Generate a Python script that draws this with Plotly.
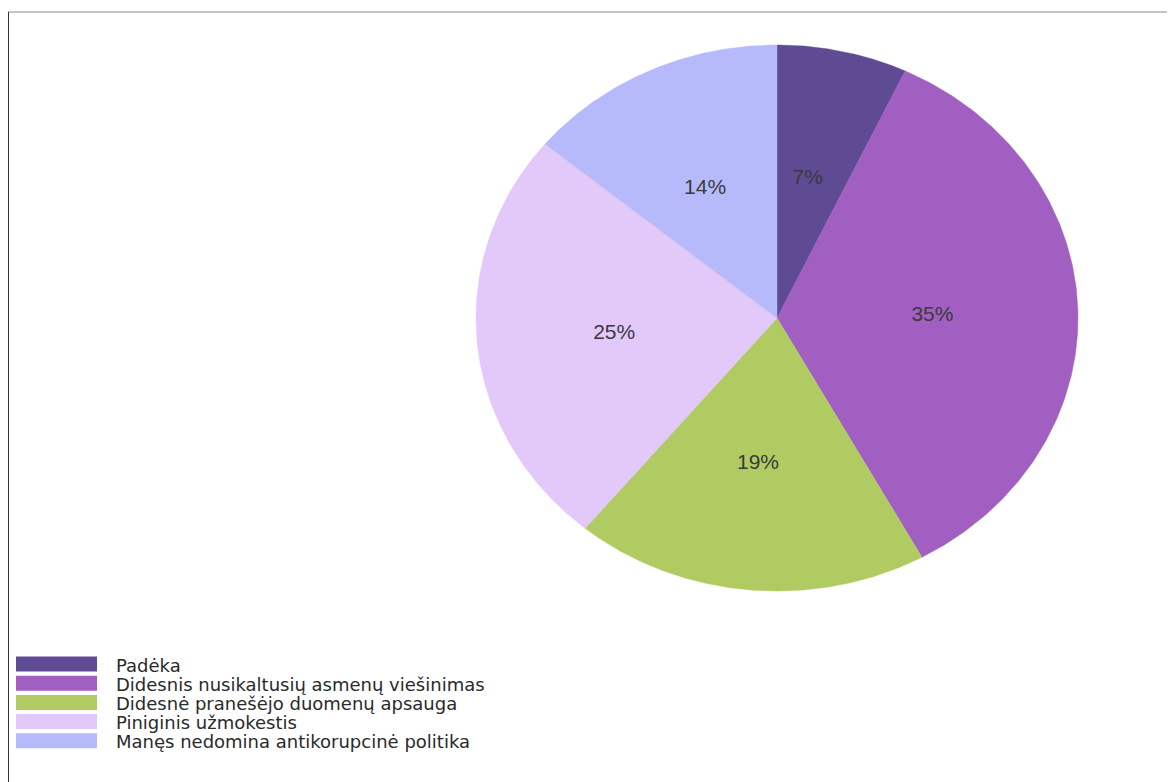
import numpy as np
import plotly.graph_objects as go

categories = [
    "Padėka",
    "Didesnis nusikaltusių asmenų viešinimas",
    "Didesnė pranešėjo duomenų apsauga",
    "Piniginis užmokestis",
    "Manęs nedomina antikorupcinė politika",
]
values = [7, 35, 19, 25, 14]
colors = ["#5f4b93", "#a15fc2", "#b1cb63", "#e3c8fa", "#b7bafa"]

W, H = 1175, 782
OFF = 8  # page body margin of the html page
cx, cy, rx, ry = 777, 318, 301, 273
label_r = 0.53

fig = go.Figure()
total = sum(values)
start = 0.0
for cat, val, col in zip(categories, values, colors):
    frac0 = start / total
    frac1 = (start + val) / total
    t = np.linspace(frac0, frac1, 200) * 2 * np.pi
    xs = np.concatenate([[cx], cx + rx * np.sin(t), [cx]])
    ys = np.concatenate([[cy], cy - ry * np.cos(t), [cy]])
    fig.add_trace(go.Scatter(x=xs, y=ys, fill="toself", fillcolor=col,
                             line=dict(width=0.5, color=col), mode="lines",
                             name=cat, hoverinfo="name", showlegend=False))
    tm = (frac0 + frac1) / 2 * 2 * np.pi
    fig.add_trace(go.Scatter(x=[cx - 4 + label_r * rx * np.sin(tm)],
                             y=[cy + 2 - label_r * ry * np.cos(tm)],
                             mode="text", text=[f"{round(100 * val / total)}%"],
                             textfont=dict(family="Liberation Sans", size=21, color="#3a3a3a"),
                             showlegend=False, hoverinfo="skip"))
    start += val

shapes = [
    dict(type="line", xref="x", yref="y", x0=8, x1=W + OFF, y0=12, y1=12,
         line=dict(color="#c4c4c4", width=2)),
    dict(type="line", xref="x", yref="y", x0=8, x1=8, y0=12, y1=H + OFF,
         line=dict(color="#333333", width=2)),
]
annotations = []
ly0, lstep = 664, 19.2
for i, (cat, col) in enumerate(zip(categories, colors)):
    yc = ly0 + i * lstep
    shapes.append(dict(type="rect", xref="x", yref="y", x0=16, x1=97,
                       y0=yc - 7.5, y1=yc + 7.5, fillcolor=col, line=dict(width=0)))
    annotations.append(dict(x=114, y=yc + 1, xref="x", yref="y", text=cat,
                            showarrow=False, xanchor="left", yanchor="middle",
                            font=dict(family="DejaVu Sans", size=18, color="#2a2a2a")))

fig.update_layout(
    width=W, height=H,
    margin=dict(l=0, r=0, t=0, b=0),
    paper_bgcolor="white", plot_bgcolor="white",
    xaxis=dict(range=[OFF, W + OFF], visible=False, fixedrange=True),
    yaxis=dict(range=[H + OFF, OFF], visible=False, fixedrange=True),
    shapes=shapes, annotations=annotations,
    showlegend=False,
)
fig.write_html("out.html")
